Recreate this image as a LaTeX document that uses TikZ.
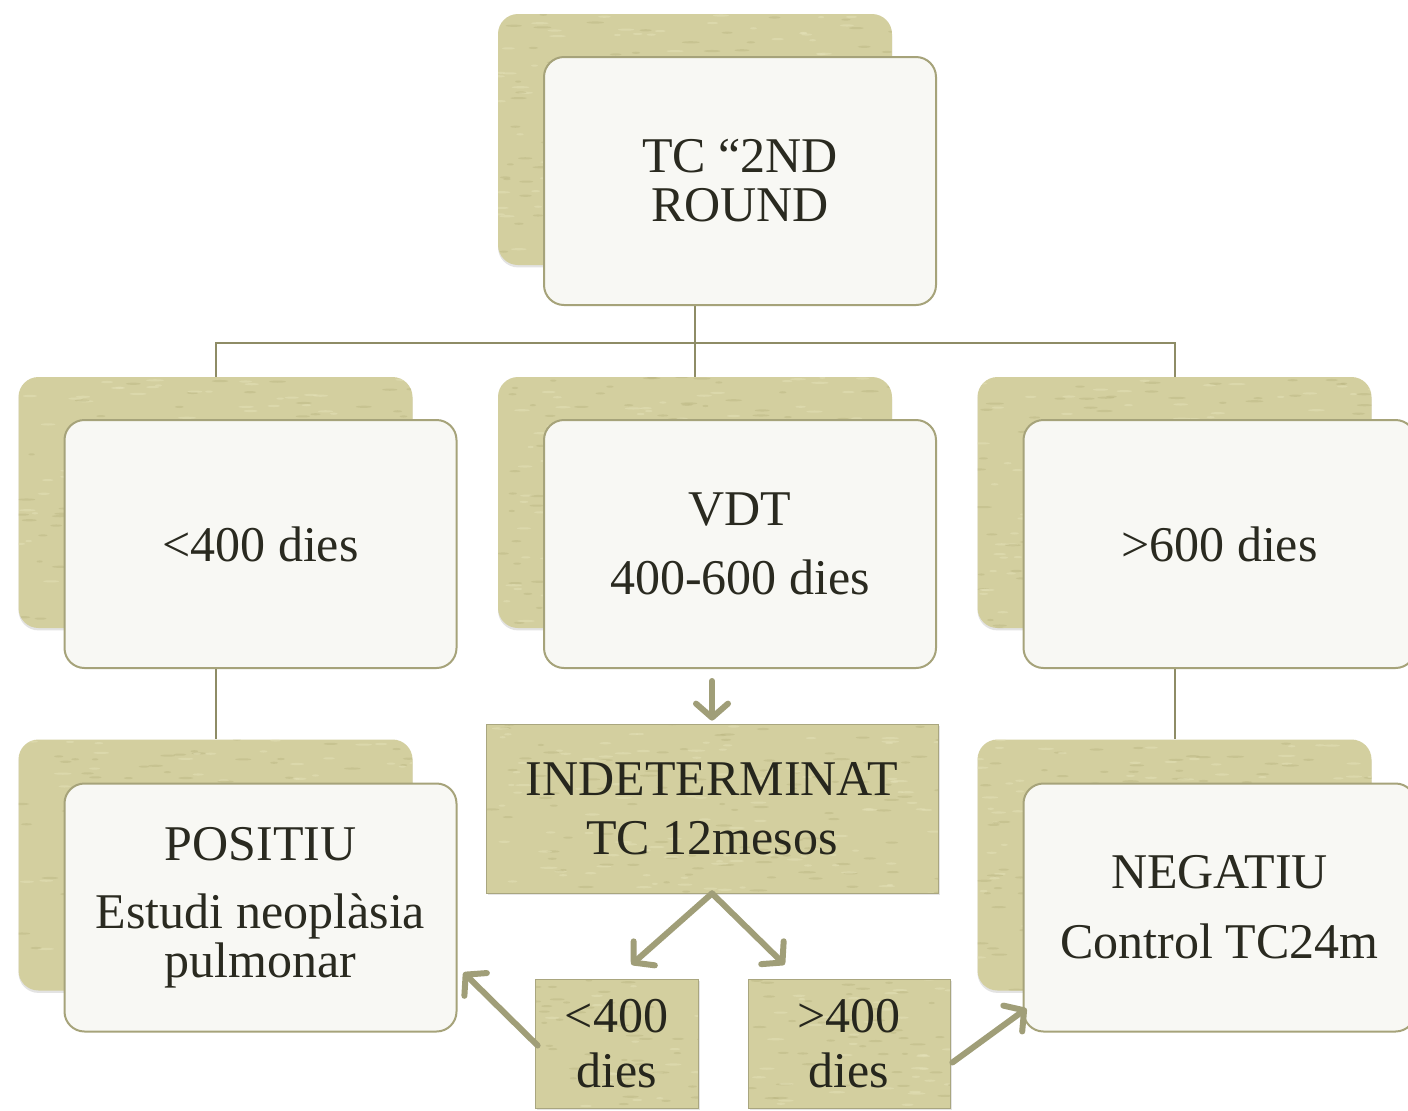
\documentclass[tikz,border=0pt]{standalone}
\usepackage{fontspec}
\setmainfont{Liberation Serif}
\usetikzlibrary{arrows.meta,calc,shadows}
\definecolor{khaki}{HTML}{D3CF9F}
\definecolor{khakidark}{HTML}{B3AE78}
\definecolor{khakilight}{HTML}{E4E1B8}
\definecolor{cardline}{HTML}{A6A37A}
\definecolor{conn}{HTML}{8E8C66}
\definecolor{arrowc}{HTML}{A09E78}
\definecolor{ink}{HTML}{2A2A20}
\definecolor{cardfill}{HTML}{F8F8F4}
\begin{document}
\begin{tikzpicture}[x=0.5pt,y=-0.5pt,
  texture/.style={path picture={
    \pgfmathsetseed{#1}
    \foreach \i in {1,...,160}{
      \fill[khakidark,opacity=.35] ($(path picture bounding box.north west)+(rnd*460, rnd*260)$) ellipse [x radius=3+rnd*6, y radius=1.1];
      \fill[khakilight,opacity=.5] ($(path picture bounding box.north west)+(rnd*460, rnd*260)$) ellipse [x radius=3+rnd*6, y radius=1.1];
    }}},
  backcard/.style={draw=none, fill=khaki, rounded corners=10pt, minimum width=197pt, minimum height=125.5pt, inner sep=0pt,
    drop shadow={opacity=0.22, shadow xshift=0pt, shadow yshift=-1.2pt}, texture=#1},
  frontcard/.style={draw=cardline, line width=1pt, fill=cardfill, rounded corners=10pt, minimum width=196pt, minimum height=124pt,
    inner sep=0pt, text=ink, align=center, font=\fontsize{25}{24.5}\selectfont},
  tanbox/.style={draw=khaki!80!black, line width=0.4pt, fill=khaki, inner sep=0pt, text=ink!90!black, align=center,
    font=\fontsize{25}{24.5}\selectfont, drop shadow={opacity=0.2, shadow xshift=0.8pt, shadow yshift=-0.8pt}, texture=#1},
  connline/.style={draw=conn, line width=1pt},
  flowarrow/.style={draw=arrowc, line width=3pt, line cap=round, -{Straight Barb[length=7pt,width=16pt,round]}}
]
\useasboundingbox (0,0) rectangle (1408,1110);
\fill[white] (0,0) rectangle (1408,1110);

% back cards
\node[backcard=11] (topB)   at (695,139.5) {};
\node[backcard=12] (leftB)  at (215.5,502.5) {};
\node[backcard=13] (midB)   at (695,502.5) {};
\node[backcard=14] (rightB) at (1174.5,502.5) {};
\node[backcard=15] (posB)   at (215.5,865) {};
\node[backcard=16] (negB)   at (1174.5,865) {};

% connectors
\coordinate (busC) at (695,343);
\draw[connline] (topB.south) -- (busC);
\draw[connline] (leftB.north) |- (busC) -| (rightB.north);
\draw[connline] (busC) -- (midB.north);
\draw[connline] (leftB.south) -- (posB.north);
\draw[connline] (rightB.south) -- (negB.north);

% front cards
\node[frontcard] (top)   at (740,181)    {TC “2ND\\ROUND};
\node[frontcard] (left)  at (260.5,544)  {<400 dies};
\node[frontcard] (mid)   at (740,544)    {VDT\\[10pt]400-600 dies};
\node[frontcard] (right) at (1219.5,544) {>600 dies};
\node[frontcard] (pos)   at (260.5,907.5) {POSITIU\\[9.5pt]Estudi neoplàsia\\pulmonar};
\node[frontcard] (neg)   at (1219.5,907.5) {NEGATIU\\[10.5pt]Control TC24m};

% tan boxes
\node[tanbox=21, minimum width=226pt, minimum height=84.5pt] (indet) at (712,808.5) {INDETERMINAT\\[5pt]TC 12mesos};
\node[tanbox=22, minimum width=81.5pt, minimum height=64.5pt] (lt) at (616.5,1043.5) {<400\\[3pt]dies};
\node[tanbox=23, minimum width=101pt, minimum height=64.5pt] (gt) at (849,1043.5) {>400\\[3pt]dies};

% arrows
\draw[flowarrow] ($(indet.north |- mid.south)+(0,12)$) -- ($(indet.north)+(0,-3)$);
\draw[flowarrow] (indet.south) -- ($(lt.north)+(15,-14)$);
\draw[flowarrow] (indet.south) -- ($(gt.north west)+(37,-14)$);
\draw[flowarrow] ($(lt.west)+(3,2)$) -- ($(pos.south east)+(6,-60)$);
\draw[flowarrow] ($(gt.east)+(2,19)$) -- ($(neg.south west)+(4,-24)$);
\end{tikzpicture}
\end{document}
